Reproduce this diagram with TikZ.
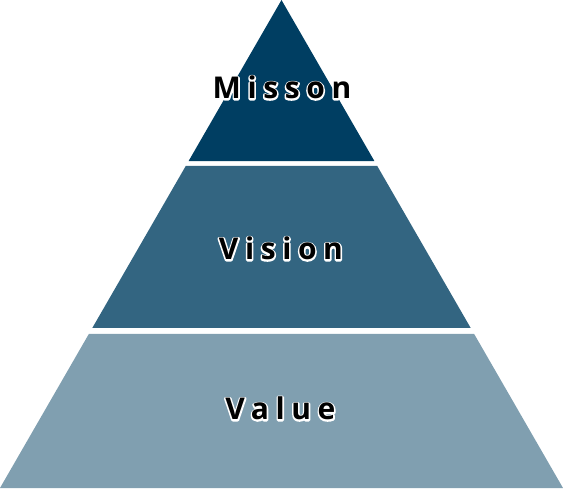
\documentclass[tikz,border=0pt]{standalone}
\usepackage{fontspec}
\usetikzlibrary{calc}
\newfontfamily\lblfont{Open Sans}[LetterSpace=22]
\definecolor{Navy}{HTML}{003E62}
% white rim drawn as stroked glyphs, black glyphs on top
\newcommand\rimtext[1]{\leavevmode\rlap{\special{pdf:literal direct 1 Tr 3 w 1 j 1 1 1 RG}#1\special{pdf:literal direct 0 Tr 0.4 w 0 j 0 0 0 RG}}#1}

\begin{document}
\begin{tikzpicture}[x=1pt,y=1pt,
    layer/.style={font=\lblfont\bfseries\fontsize{30}{32}\selectfont,anchor=base,inner sep=0pt}]
  \useasboundingbox (0,0) rectangle (563,488);
  \coordinate (apex) at (281.5,488);
  \coordinate (bl) at (0,0);
  \coordinate (br) at (563,0);
  % bands of the pyramid, cut along its two edges
  \foreach \ta/\tb/\col in {0/.330/Navy,.340/.672/Navy!80,.684/1/Navy!50}{
    \fill[\col]($(apex)!\ta!(bl)$)--($(apex)!\tb!(bl)$)--($(apex)!\tb!(br)$)--($(apex)!\ta!(br)$)--cycle;}
  \node[layer](misson)at(282,389){\rimtext{Misson}};
  \node[layer](vision)at(281,228){\rimtext{Vision}};
  \node[layer](value)at(280.5,68){\rimtext{Value}};
\end{tikzpicture}
\end{document}
